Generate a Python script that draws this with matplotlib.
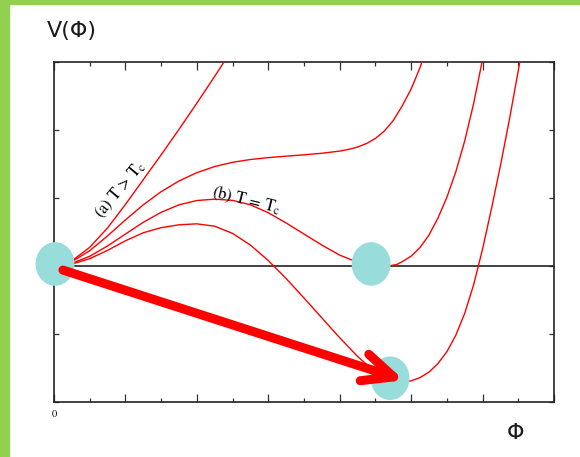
import matplotlib.pyplot as plt
from matplotlib.patches import Ellipse, Rectangle

plt.rcParams['mathtext.fontset'] = 'stix'

# potential curves V(phi) at four temperatures, in tick units
phi_a = [0, 0.25, 0.5, 1.0, 1.5, 2.0, 2.5, 3.0, 3.5, 4.0, 4.5, 5.0, 5.3]
v_a = [0, 0.02, 0.075, 0.275, 0.56, 0.905, 1.27, 1.635, 2.01, 2.395, 2.79,
       3.195, 3.44]

phi_2 = [0, 0.25, 0.5, 1.0, 1.5, 2.0, 2.5, 3.0, 3.5, 4.0, 4.5, 5.0, 5.5, 6.0,
         6.5, 7.0, 7.5, 8.0, 8.25, 8.5, 8.75, 9.0, 9.25, 9.5, 9.75, 10.0,
         10.25, 10.5]
v_2 = [0, 0.018, 0.063, 0.225, 0.443, 0.678, 0.9, 1.093, 1.25, 1.373, 1.463,
       1.525, 1.566, 1.594, 1.615, 1.635, 1.658, 1.69, 1.715, 1.75, 1.801,
       1.876, 1.985, 2.14, 2.355, 2.603, 2.92, 3.3]

phi_b = [0, 0.25, 0.5, 1.0, 1.5, 2.0, 2.5, 3.0, 3.5, 4.0, 4.5, 5.0, 5.5, 6.0,
         6.5, 7.0, 7.5, 8.0, 8.5, 8.75, 9.0, 9.2, 9.4, 9.6, 9.75, 10.0, 10.25,
         10.5, 10.75, 11.0, 11.25, 11.5, 11.75, 12.0, 12.2]
v_b = [0, 0.01, 0.038, 0.143, 0.295, 0.47, 0.643, 0.79, 0.9, 0.963, 0.983,
       0.965, 0.9, 0.783, 0.633, 0.47, 0.308, 0.16, 0.055, 0.02, 0.004, 0,
       0.004, 0.022, 0.064, 0.145, 0.273, 0.456, 0.704, 1.01, 1.385, 1.84,
       2.39, 3.04, 3.63]

phi_4 = [0, 0.25, 0.5, 1.0, 1.5, 2.0, 2.5, 3.0, 3.5, 4.0, 4.5, 5.0, 5.5, 6.0,
         6.5, 7.0, 7.5, 8.0, 8.5, 9.0, 9.5, 9.75, 10.0, 10.25, 10.5, 10.75,
         11.0, 11.25, 11.5, 11.75, 12.0, 12.25, 12.5, 12.75, 13.0, 13.1]
v_4 = [0, 0.007, 0.028, 0.108, 0.23, 0.371, 0.489, 0.564, 0.606, 0.62, 0.585,
       0.48, 0.308, 0.08, -0.185, -0.47, -0.763, -1.055, -1.33, -1.563,
       -1.69, -1.71, -1.69, -1.64, -1.56, -1.435, -1.26, -1.02, -0.695,
       -0.275, 0.25, 0.845, 1.475, 2.15, 2.875, 3.18]

xtick_major = [0, 2, 4, 6, 8, 10, 12, 14]
xtick_labels = ['0', '', '', '', '', '', '', '']

fig = plt.figure(figsize=(5.8, 4.57), dpi=100)

# green frame on the left and top
fig.patches.append(Rectangle((0, 0), 9 / 580, 1, transform=fig.transFigure,
                             color='#92d050', zorder=0))
fig.patches.append(Rectangle((0, 1 - 3.5 / 457), 1, 3.5 / 457,
                             transform=fig.transFigure, color='#92d050', zorder=0))

ax = fig.add_axes([54 / 580, 1 - 402 / 457, 500 / 580, 340 / 457])

for px, pv in [(phi_a, v_a), (phi_2, v_2), (phi_b, v_b), (phi_4, v_4)]:
    ax.plot(px, pv, color='red', lw=1.0, zorder=3, solid_joinstyle='round')

ax.axhline(0, color='#222222', lw=1.2, zorder=2)

ax.set_xlim(0, 14)
ax.set_ylim(-2, 3)
ax.set_xticks(xtick_major)
ax.set_xticklabels(xtick_labels, family='STIXGeneral', fontsize=7.5)
ax.set_xticks(range(1, 14, 2), minor=True)
ax.set_yticks([-2, -1, 0, 1, 2, 3])
ax.set_yticklabels([])
ax.tick_params(axis='x', which='major', direction='in', length=5.8, width=0.9,
               top=True, pad=5, color='#333333')
ax.tick_params(axis='x', which='minor', direction='in', length=3, width=0.9,
               top=True, color='#333333')
ax.tick_params(axis='y', direction='in', length=3.5, width=0.9, right=True,
               color='#333333')
for s in ax.spines.values():
    s.set_color('#222222')
    s.set_linewidth(1.2)

# curve labels
ax.text(1.85, 1.12, r'(a) T > T$_{\rm c}$', family='STIXGeneral', fontsize=12,
        rotation=50, ha='center', va='center', rotation_mode='anchor')
ax.text(5.4, 0.97, r'(b) T = T$_{\rm c}$', family='STIXGeneral', fontsize=12,
        rotation=-14, ha='center', va='center', rotation_mode='anchor')

# vacuum markers
for cx, cy in [(0.03, 0.03), (8.88, 0.03), (9.41, -1.65)]:
    ax.add_patch(Ellipse((cx, cy), 1.05, 0.62, color='#99dcdc', zorder=4,
                         clip_on=False))

# tunnelling arrow
ax.annotate('', xy=(9.8, -1.68), xytext=(0.25, -0.06),
            arrowprops=dict(arrowstyle='->,head_length=2.2,head_width=1.0',
                            color='red', lw=6.5, shrinkA=0, shrinkB=0,
                            capstyle='round', joinstyle='round'),
            zorder=5, annotation_clip=False)

fig.text(47 / 580, 1 - 37 / 457, 'V(Φ)', fontsize=16, color='#1a1a1a',
         va='baseline', ha='left')
fig.text(516 / 580, 1 - 433 / 457, 'Φ', fontsize=16, color='#1a1a1a',
         va='center', ha='center')

fig.savefig('out.png', dpi=100)
